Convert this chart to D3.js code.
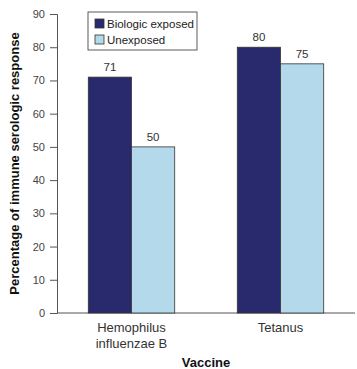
<!DOCTYPE html>
<html>
<head>
<meta charset="utf-8">
<script src="https://cdn.jsdelivr.net/npm/d3@7"></script>
<style>
  body { margin: 0; background: #fff; }
  text { font-family: "Liberation Sans", Arial, sans-serif; }
</style>
</head>
<body>
<svg id="chart" width="357" height="369"></svg>
<script>
// data
var vaccines = ["Hemophilus influenzae B", "Tetanus"];
var vaccineLines = [["Hemophilus", "influenzae B"], ["Tetanus"]];
var seriesNames = ["Biologic exposed", "Unexposed"];
var exposedValues = [71, 80];
var unexposedValues = [50, 75];
var yTicks = [0, 10, 20, 30, 40, 50, 60, 70, 80, 90];
var colors = ["#29296e", "#b3d9ea"];

var svg = d3.select("#chart");
var margin = {left: 57, right: 2, top: 14, bottom: 56};
var W = 357, H = 369;

var x0 = d3.scaleBand().domain(vaccines)
    .range([margin.left, W - margin.right])
    .paddingInner(0.42).paddingOuter(0.21);
var x1 = d3.scaleBand().domain(seriesNames).range([0, x0.bandwidth()]);
var y = d3.scaleLinear().domain([0, 90]).range([H - margin.bottom, margin.top]);

// y axis
var yAxis = svg.append("g")
    .attr("transform", `translate(${margin.left},0)`)
    .call(d3.axisLeft(y).tickValues(yTicks).tickSize(7).tickPadding(5));
yAxis.select(".domain").attr("stroke", "#555");
yAxis.selectAll(".tick line").attr("stroke", "#555");
yAxis.selectAll(".tick text").attr("fill", "#444").style("font-size", "11px");

// x axis line
svg.append("line")
    .attr("x1", margin.left).attr("x2", W - margin.right)
    .attr("y1", y(0)).attr("y2", y(0))
    .attr("stroke", "#555");

// bars
var rows = vaccines.map((v, i) => ({vaccine: v, vals: [exposedValues[i], unexposedValues[i]]}));
var groups = svg.selectAll(".grp").data(rows).enter().append("g")
    .attr("class", "grp")
    .attr("transform", d => `translate(${x0(d.vaccine)},0)`);

groups.selectAll("rect").data(d => d.vals.map((v, j) => ({name: seriesNames[j], v: v, j: j})))
    .enter().append("rect")
    .attr("x", d => x1(d.name))
    .attr("width", x1.bandwidth())
    .attr("y", d => y(d.v))
    .attr("height", d => y(0) - y(d.v))
    .attr("fill", d => colors[d.j])
    .attr("stroke", "#333")
    .attr("stroke-width", 0.8);

groups.selectAll(".val").data(d => d.vals.map((v, j) => ({name: seriesNames[j], v: v})))
    .enter().append("text")
    .attr("class", "val")
    .attr("x", d => x1(d.name) + x1.bandwidth() / 2)
    .attr("y", d => y(d.v) - 6)
    .attr("text-anchor", "middle")
    .attr("fill", "#333")
    .style("font-size", "11.5px")
    .text(d => d.v);

// category labels
vaccines.forEach((v, i) => {
    var t = svg.append("text")
        .attr("x", x0(v) + x0.bandwidth() / 2)
        .attr("y", y(0) + 19)
        .attr("text-anchor", "middle")
        .attr("fill", "#333")
        .style("font-size", "13px");
    vaccineLines[i].forEach((line, k) => {
        t.append("tspan").attr("x", x0(v) + x0.bandwidth() / 2)
            .attr("dy", k === 0 ? 0 : 16).text(line);
    });
});

// axis titles
svg.append("text")
    .attr("x", (margin.left + W - margin.right) / 2)
    .attr("y", 367)
    .attr("text-anchor", "middle")
    .style("font-size", "13px").style("font-weight", "bold")
    .attr("fill", "#111")
    .text("Vaccine");

svg.append("text")
    .attr("transform", `translate(19,${y(45)}) rotate(-90)`)
    .attr("text-anchor", "middle")
    .style("font-size", "13px").style("font-weight", "bold")
    .attr("fill", "#111")
    .text("Percentage of immune serologic response");

// legend
var lg = svg.append("g").attr("transform", "translate(88,12)");
lg.append("rect").attr("width", 109).attr("height", 38)
    .attr("fill", "#fff").attr("stroke", "#333").attr("stroke-width", 0.8);
seriesNames.forEach((s, i) => {
    lg.append("rect").attr("x", 7).attr("y", 7 + i * 16).attr("width", 9).attr("height", 9)
        .attr("fill", colors[i]).attr("stroke", "#333").attr("stroke-width", 0.8);
    lg.append("text").attr("x", 19).attr("y", 15.5 + i * 16)
        .style("font-size", "11.5px").attr("fill", "#222").text(s);
});
</script>
</body>
</html>
